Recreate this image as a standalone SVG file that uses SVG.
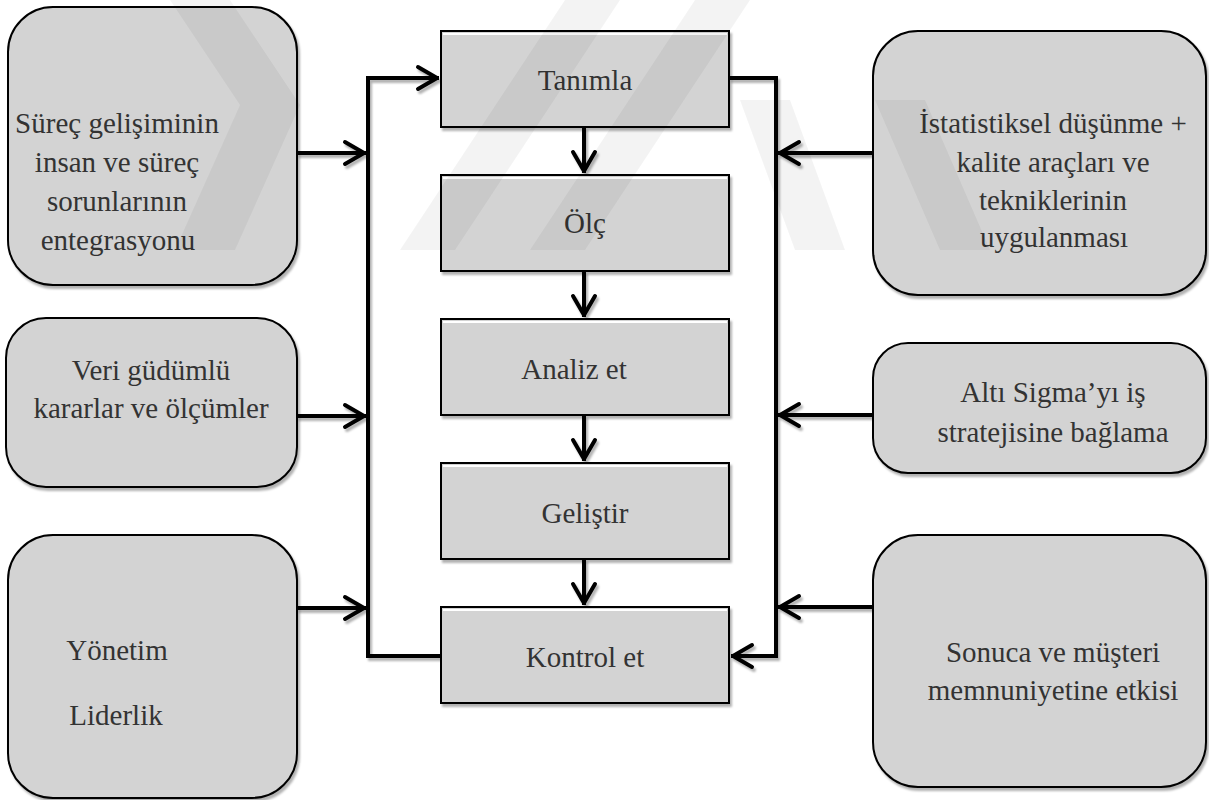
<svg xmlns="http://www.w3.org/2000/svg" width="1209" height="800" viewBox="0 0 1209 800">
<style>
.box{fill:#d3d3d3;stroke:#000;stroke-width:2}
.hl{stroke:#fff;stroke-width:2;fill:none}
.t{font-family:'Liberation Serif','Times New Roman',serif;font-size:29px;fill:#333;text-anchor:middle}
.c{fill:none;stroke:#000;stroke-width:4}
</style>
<defs>
<filter id="sh" x="-10%" y="-10%" width="130%" height="130%">
<feDropShadow dx="2" dy="3" stdDeviation="1.2" flood-color="#000" flood-opacity="0.3"/>
</filter>
<marker id="ah" markerUnits="userSpaceOnUse" markerWidth="30" markerHeight="30" viewBox="-24 -15 28 30" refX="0" refY="0" orient="auto">
<path d="M-21,-11 L-2,0 L-21,11" fill="none" stroke="#000" stroke-width="4" stroke-linecap="round" stroke-linejoin="round"/>
</marker>
</defs>
<rect width="1209" height="800" fill="#fff"/>
<g id="connectors" filter="url(#sh)">
<path class="c" d="M441,656 H368 V78 H439" marker-end="url(#ah)"/>
<path class="c" d="M729,78 H776 V656 H731" marker-end="url(#ah)"/>
<path class="c" d="M297,153 H366" marker-end="url(#ah)"/>
<path class="c" d="M297,416 H366" marker-end="url(#ah)"/>
<path class="c" d="M297,608 H366" marker-end="url(#ah)"/>
<path class="c" d="M873,153 H778" marker-end="url(#ah)"/>
<path class="c" d="M873,415 H778" marker-end="url(#ah)"/>
<path class="c" d="M873,607 H778" marker-end="url(#ah)"/>
<path class="c" d="M584,127 V173" marker-end="url(#ah)"/>
<path class="c" d="M584,271 V317" marker-end="url(#ah)"/>
<path class="c" d="M584,415 V461" marker-end="url(#ah)"/>
<path class="c" d="M584,559 V605" marker-end="url(#ah)"/>
</g>
<g id="n-tanimla">
<rect class="box" x="441" y="31" width="288" height="96" filter="url(#sh)"/>
<path class="hl" d="M443,34 H727"/>
<text class="t" x="585" y="90" font-family="Liberation Serif">Tanımla</text>
</g>
<g id="n-olc">
<rect class="box" x="441" y="175" width="288" height="96" filter="url(#sh)"/>
<path class="hl" d="M443,178 H727"/>
<text class="t" x="585" y="233" font-family="Liberation Serif">Ölç</text>
</g>
<g id="n-analiz">
<rect class="box" x="441" y="319" width="288" height="96" filter="url(#sh)"/>
<path class="hl" d="M443,322 H727"/>
<text class="t" x="574" y="379" font-family="Liberation Serif">Analiz et</text>
</g>
<g id="n-gelistir">
<rect class="box" x="441" y="463" width="288" height="96" filter="url(#sh)"/>
<path class="hl" d="M443,466 H727"/>
<text class="t" x="585" y="523" font-family="Liberation Serif">Geliştir</text>
</g>
<g id="n-kontrol">
<rect class="box" x="441" y="607" width="288" height="96" filter="url(#sh)"/>
<path class="hl" d="M443,610 H727"/>
<text class="t" x="585" y="667" font-family="Liberation Serif">Kontrol et</text>
</g>
<g id="n-surec">
<rect class="box" x="8" y="7" width="289" height="278" rx="45" ry="45" filter="url(#sh)"/>
<text class="t" x="117" y="133" font-family="Liberation Serif">Süreç gelişiminin</text>
<text class="t" x="117" y="172" font-family="Liberation Serif">insan ve süreç</text>
<text class="t" x="117" y="211" font-family="Liberation Serif">sorunlarının</text>
<text class="t" x="118" y="250" font-family="Liberation Serif">entegrasyonu</text>
</g>
<g id="n-veri">
<rect class="box" x="6" y="318" width="291" height="169" rx="40" ry="40" filter="url(#sh)"/>
<text class="t" x="151" y="380" font-family="Liberation Serif">Veri güdümlü</text>
<text class="t" x="151" y="418" font-family="Liberation Serif">kararlar ve ölçümler</text>
</g>
<g id="n-yonetim">
<rect class="box" x="8" y="535" width="289" height="263" rx="45" ry="45" filter="url(#sh)"/>
<text class="t" x="117" y="660" font-family="Liberation Serif">Yönetim</text>
<text class="t" x="116" y="725" font-family="Liberation Serif">Liderlik</text>
</g>
<g id="n-istatistik">
<rect class="box" x="873" y="31" width="333" height="264" rx="45" ry="45" filter="url(#sh)"/>
<text class="t" x="1053" y="133" font-family="Liberation Serif">İstatistiksel düşünme +</text>
<text class="t" x="1053" y="172" font-family="Liberation Serif">kalite araçları ve</text>
<text class="t" x="1053" y="210" font-family="Liberation Serif">tekniklerinin</text>
<text class="t" x="1054" y="247" font-family="Liberation Serif">uygulanması</text>
</g>
<g id="n-alti">
<rect class="box" x="873" y="343" width="333" height="130" rx="35" ry="35" filter="url(#sh)"/>
<text class="t" x="1053" y="402" font-family="Liberation Serif">Altı Sigma’yı iş</text>
<text class="t" x="1053" y="442" font-family="Liberation Serif">stratejisine bağlama</text>
</g>
<g id="n-sonuca">
<rect class="box" x="873" y="535" width="333" height="252" rx="45" ry="45" filter="url(#sh)"/>
<text class="t" x="1053" y="662" font-family="Liberation Serif">Sonuca ve müşteri</text>
<text class="t" x="1053" y="700" font-family="Liberation Serif">memnuniyetine etkisi</text>
</g>
<g id="watermark" fill="#000" opacity="0.045">
<polygon points="170,0 230,0 300,105 235,250 175,250 240,105"/>
<polygon points="400,250 455,250 620,0 565,0"/>
<polygon points="530,250 585,250 750,0 695,0"/>
<polygon points="740,100 790,100 845,250 795,250"/>
<polygon points="875,100 925,100 990,250 940,250"/>
</g>
</svg>
